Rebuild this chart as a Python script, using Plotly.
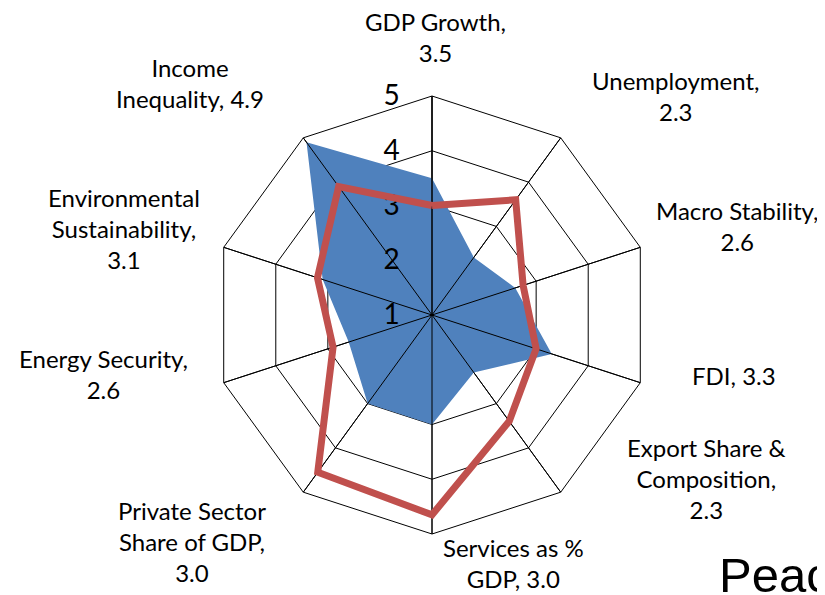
import plotly.graph_objects as go

# categories clockwise from the top
categories = ["GDP Growth", "Unemployment", "Macro Stability", "FDI",
              "Export Share & Composition", "Services as % GDP",
              "Private Sector Share of GDP", "Energy Security",
              "Environmental Sustainability", "Income Inequality"]
current = [3.5, 2.3, 2.6, 3.3, 2.3, 3.0, 3.0, 2.6, 3.1, 4.9]
target = [3.0, 3.6, 2.75, 3.0, 3.4, 4.65, 4.55, 2.9, 3.2, 3.9]
radial_ticks = [1, 2, 3, 4, 5]

# how each category label is wrapped before its value
label_heads = ["GDP Growth,<br>", "Unemployment,<br>", "Macro Stability,<br>", "FDI, ",
               "Export Share &<br>Composition,<br>", "Services as %<br>GDP, ",
               "Private Sector<br>Share of GDP,<br>", "Energy Security,<br>",
               "Environmental<br>Sustainability,<br>", "Income<br>Inequality, "]
# label centres in pixels (layout only)
label_pos = [(435, 37), (676, 96), (737, 226), (734, 375), (706, 478),
             (514, 563), (192, 541), (103, 374), (124, 228), (190, 83)]
SHIFT_X, SHIFT_Y = -8, -8

W, H = 825, 595
cx, cy, R = 424, 307, 219
FONT = "Lato"

fig = go.Figure()

closed = lambda a: a + a[:1]

fig.add_trace(go.Scatterpolar(
    r=closed(current), theta=closed(categories), fill="toself",
    fillcolor="#4F81BD", line=dict(width=0, color="#4F81BD"),
    mode="lines", subplot="polar", showlegend=False, hoverinfo="skip"))

# make sure every spoke shows over the blue area
for cat in categories:
    fig.add_trace(go.Scatterpolar(
        r=[radial_ticks[0], radial_ticks[-1]], theta=[cat, cat], mode="lines",
        line=dict(color="black", width=1), subplot="polar",
        showlegend=False, hoverinfo="skip"))

fig.add_trace(go.Scatterpolar(
    r=closed(target), theta=closed(categories), mode="lines",
    line=dict(color="#C0504D", width=7), subplot="polar2",
    showlegend=False, hoverinfo="skip"))

dom = dict(x=[(cx - R) / W, (cx + R) / W],
           y=[(H - cy - R) / H, (H - cy + R) / H])

fig.update_layout(
    width=W, height=H,
    margin=dict(l=0, r=0, t=0, b=0),
    paper_bgcolor="white",
    font=dict(family=FONT, color="black"),
    polar=dict(
        domain=dom, gridshape="linear", bgcolor="rgba(0,0,0,0)",
        radialaxis=dict(range=[1, 5], tickvals=radial_ticks, angle=90, tickangle=90,
                        side="counterclockwise", showline=True, linecolor="black",
                        linewidth=1, gridcolor="black", gridwidth=1,
                        ticks="outside", ticklen=22, tickcolor="rgba(0,0,0,0)",
                        tickfont=dict(size=28, family=FONT, color="black"),
                        layer="above traces"),
        angularaxis=dict(direction="clockwise", rotation=90, categoryorder="array",
                         categoryarray=categories, showticklabels=False, ticks="",
                         showline=True, linecolor="black", linewidth=1,
                         gridcolor="black", gridwidth=1, layer="above traces"),
    ),
    polar2=dict(
        domain=dom, gridshape="linear", bgcolor="rgba(0,0,0,0)",
        radialaxis=dict(range=[1, 5], visible=False, showgrid=False),
        angularaxis=dict(direction="clockwise", rotation=90, categoryorder="array",
                         categoryarray=categories, showticklabels=False, ticks="",
                         showline=False, showgrid=False),
    ),
)

for head, val, (px, py) in zip(label_heads, current, label_pos):
    fig.add_annotation(text=f"{head}{val:.1f}",
                       x=(px + SHIFT_X) / W, y=1 - (py + SHIFT_Y) / H,
                       xref="paper", yref="paper", showarrow=False,
                       xanchor="center", yanchor="middle", align="center",
                       font=dict(size=24, family=FONT, color="black"))

fig.add_annotation(text="Peace", x=(717 + SHIFT_X) / W, y=1 - 596 / H,
                   xref="paper", yref="paper",
                   showarrow=False, xanchor="left", yanchor="bottom",
                   font=dict(size=49, family="Liberation Sans", color="black"))

fig.write_html("out.html")
